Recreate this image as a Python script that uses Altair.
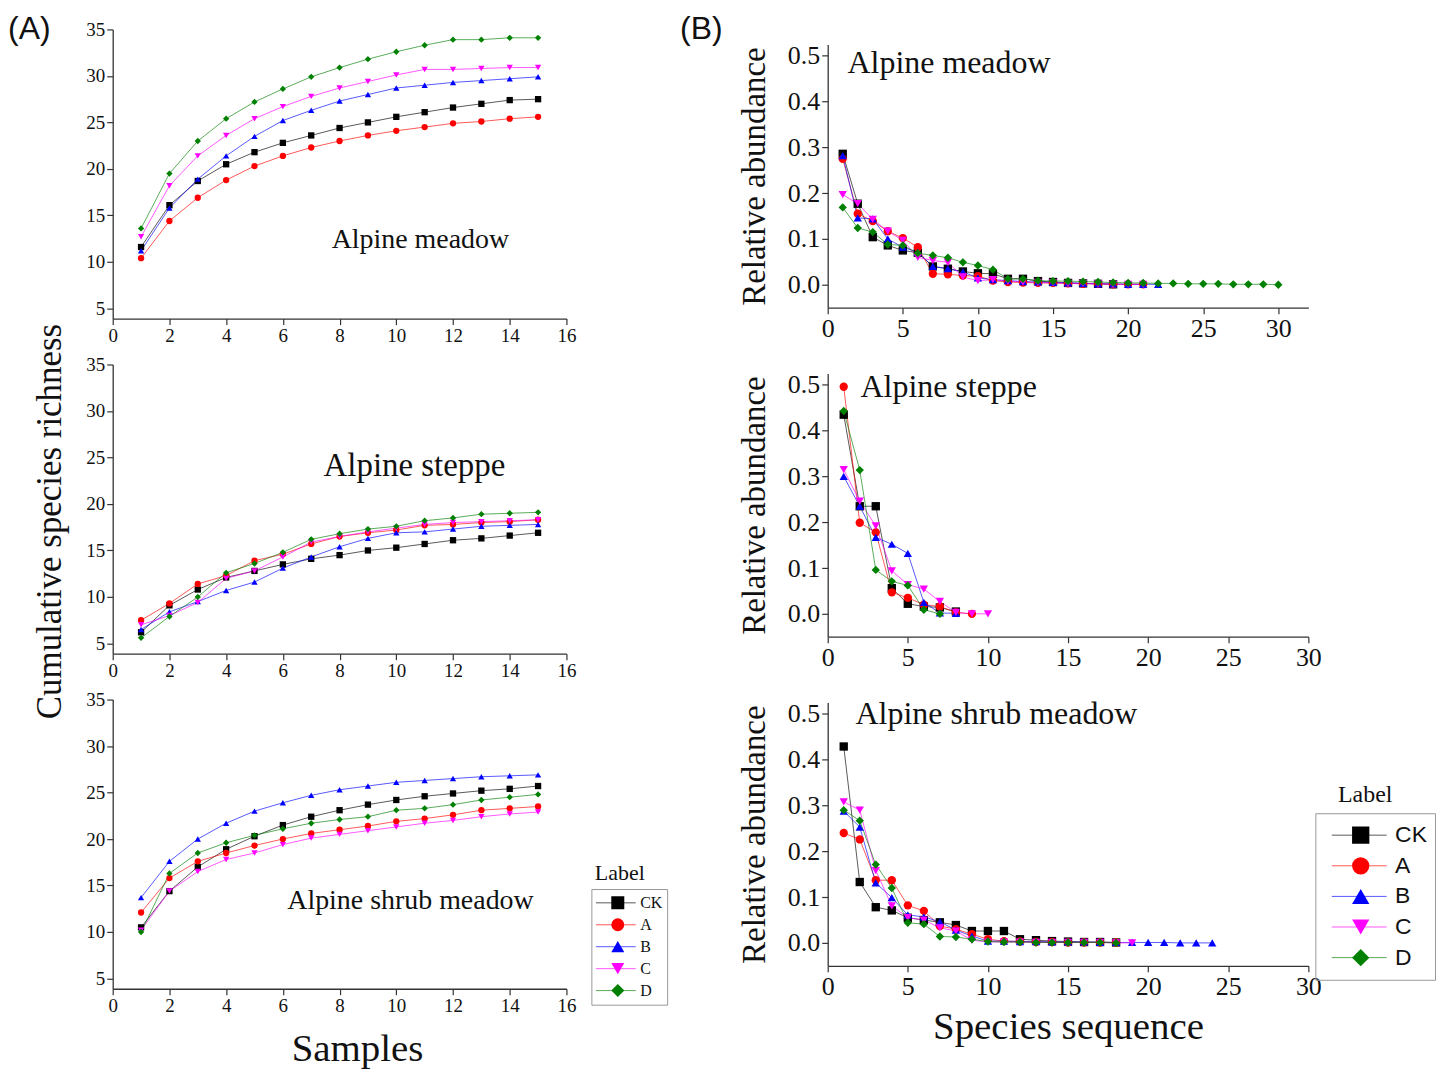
import altair as alt
import pandas as pd

SERIF = "Liberation Serif"
SANS = "Liberation Sans"

labels = ["CK", "A", "B", "C", "D"]
colors = ["#000000", "#ff0000", "#0000ff", "#ff00ff", "#008000"]
shapes = ["square", "circle", "triangle-up", "triangle-down", "diamond"]

samples = list(range(1, 16))

# (A) cumulative species richness
meadow_rich = {
    "CK": [11.6, 16.1, 18.7, 20.5, 21.8, 22.8, 23.6, 24.4, 25.0, 25.6, 26.1, 26.6, 27.0, 27.4, 27.5],
    "A": [10.4, 14.4, 16.9, 18.8, 20.3, 21.4, 22.3, 23.0, 23.6, 24.1, 24.5, 24.9, 25.1, 25.4, 25.6],
    "B": [11.2, 15.8, 18.9, 21.4, 23.5, 25.2, 26.3, 27.3, 28.0, 28.7, 29.0, 29.3, 29.5, 29.7, 29.9],
    "C": [12.7, 18.2, 21.4, 23.6, 25.4, 26.7, 27.8, 28.7, 29.4, 30.1, 30.7, 30.7, 30.8, 30.9, 30.9],
    "D": [13.6, 19.5, 23.0, 25.4, 27.2, 28.6, 29.9, 30.9, 31.8, 32.6, 33.3, 33.9, 33.9, 34.1, 34.1],
}
steppe_rich = {
    "CK": [6.2, 9.1, 10.8, 12.1, 12.8, 13.5, 14.1, 14.5, 15.0, 15.3, 15.7, 16.1, 16.3, 16.6, 16.9],
    "A": [7.5, 9.3, 11.4, 12.3, 13.9, 14.6, 15.7, 16.5, 16.9, 17.2, 17.7, 17.8, 18.0, 18.1, 18.3],
    "B": [6.5, 8.4, 9.5, 10.7, 11.6, 13.1, 14.3, 15.4, 16.3, 16.9, 17.0, 17.3, 17.6, 17.7, 17.8],
    "C": [7.0, 8.0, 9.4, 12.0, 12.8, 14.3, 15.9, 16.5, 17.0, 17.4, 17.8, 18.0, 18.1, 18.2, 18.3],
    "D": [5.6, 7.9, 10.0, 12.6, 13.6, 14.8, 16.2, 16.8, 17.3, 17.6, 18.2, 18.5, 18.9, 19.0, 19.1],
}
shrub_rich = {
    "CK": [10.5, 14.4, 17.0, 18.9, 20.3, 21.5, 22.4, 23.1, 23.7, 24.2, 24.6, 24.9, 25.2, 25.4, 25.7],
    "A": [12.1, 15.8, 17.6, 18.5, 19.3, 20.0, 20.6, 21.0, 21.4, 21.9, 22.2, 22.6, 23.1, 23.3, 23.5],
    "B": [13.7, 17.6, 20.0, 21.7, 23.0, 23.9, 24.7, 25.3, 25.7, 26.1, 26.3, 26.5, 26.7, 26.8, 26.9],
    "C": [10.2, 14.4, 16.5, 17.8, 18.5, 19.4, 20.1, 20.5, 20.9, 21.3, 21.7, 22.0, 22.4, 22.7, 22.9],
    "D": [10.0, 16.3, 18.5, 19.6, 20.4, 21.1, 21.7, 22.1, 22.4, 23.1, 23.3, 23.7, 24.2, 24.5, 24.8],
}

# (B) relative abundance by species rank
meadow_ab = {
    "CK": [0.286, 0.177, 0.104, 0.086, 0.075, 0.070, 0.040, 0.035, 0.029, 0.025, 0.024, 0.013, 0.013,
           0.008, 0.006, 0.004, 0.003, 0.002, 0.001],
    "A": [0.275, 0.155, 0.139, 0.117, 0.102, 0.082, 0.024, 0.023, 0.020, 0.019, 0.009, 0.006, 0.005,
          0.004, 0.004, 0.003, 0.002, 0.002, 0.001, 0.001, 0.001],
    "B": [0.282, 0.146, 0.144, 0.100, 0.082, 0.071, 0.040, 0.035, 0.028, 0.015, 0.011, 0.009, 0.007,
          0.006, 0.005, 0.004, 0.003, 0.002, 0.002, 0.001, 0.001, 0.001],
    "C": [0.197, 0.177, 0.143, 0.117, 0.097, 0.060, 0.053, 0.049, 0.017, 0.009, 0.011, 0.008, 0.006,
          0.005, 0.004, 0.003, 0.003, 0.002, 0.001, 0.001, 0.001],
    "D": [0.169, 0.124, 0.115, 0.088, 0.086, 0.069, 0.064, 0.059, 0.049, 0.042, 0.033, 0.013, 0.013,
          0.009, 0.008, 0.008, 0.007, 0.006, 0.005, 0.004, 0.004, 0.003, 0.003, 0.002, 0.002, 0.002,
          0.001, 0.001, 0.001, 0.0],
}
steppe_ab = {
    "CK": [0.435, 0.235, 0.235, 0.056, 0.022, 0.016, 0.014, 0.005],
    "A": [0.496, 0.199, 0.178, 0.047, 0.035, 0.020, 0.016, 0.003, 0.0],
    "B": [0.300, 0.235, 0.167, 0.152, 0.132, 0.025, 0.002, 0.001],
    "C": [0.315, 0.246, 0.192, 0.094, 0.064, 0.054, 0.027, 0.003, 0.0, 0.0],
    "D": [0.443, 0.314, 0.096, 0.071, 0.062, 0.009, 0.0],
}
shrub_ab = {
    "CK": [0.429, 0.133, 0.078, 0.071, 0.055, 0.050, 0.045, 0.039, 0.026, 0.026, 0.026, 0.008, 0.006,
           0.004, 0.003, 0.002, 0.002, 0.001],
    "A": [0.240, 0.226, 0.137, 0.137, 0.082, 0.070, 0.037, 0.030, 0.019, 0.008, 0.004, 0.003, 0.002,
          0.002, 0.001, 0.001, 0.001, 0.001],
    "B": [0.288, 0.253, 0.131, 0.099, 0.061, 0.057, 0.046, 0.028, 0.015, 0.004, 0.004, 0.003, 0.003,
          0.002, 0.002, 0.002, 0.001, 0.001, 0.001, 0.001, 0.001, 0.0, 0.0, 0.0],
    "C": [0.308, 0.290, 0.158, 0.081, 0.055, 0.050, 0.033, 0.026, 0.006, 0.002, 0.002, 0.002, 0.001,
          0.001, 0.001, 0.001, 0.001, 0.0, 0.0],
    "D": [0.290, 0.267, 0.171, 0.120, 0.044, 0.041, 0.014, 0.013, 0.008, 0.003, 0.002, 0.002, 0.001,
          0.001, 0.001, 0.001, 0.001, 0.0],
}

rich_ticks_x = [0, 2, 4, 6, 8, 10, 12, 14, 16]
rich_ticks_y = [5, 10, 15, 20, 25, 30, 35]
ab_ticks_x = [0, 5, 10, 15, 20, 25, 30]
ab_ticks_y = [0.0, 0.1, 0.2, 0.3, 0.4, 0.5]

# panel annotations: (x, y, text)
notes_A = [(10.85, 12.4, "Alpine meadow"), (10.64, 24.1, "Alpine steppe"), (10.5, 13.35, "Alpine shrub meadow")]
notes_B = [(1.32, 0.485, "Alpine meadow"), (2.05, 0.496, "Alpine steppe"), (1.74, 0.50, "Alpine shrub meadow")]


def long_df(series, xs=None):
    rows = []
    for lab in labels:
        for i, v in enumerate(series[lab]):
            x = xs[i] if xs is not None else i + 1
            rows.append({"x": x, "y": v, "Label": lab, "LabelL": lab})
    return pd.DataFrame(rows)


def panel(df, xdom, ydom, w, h, xvals, yvals, yfmt, tfs, msize, note, nfs, nalign,
          xtitle=None, ytitle=None, xextra=None, yextra=None, line_leg=None, pt_leg=None, corner=None):
    xax = dict(values=xvals, labelFontSize=tfs, format="d", labelFlush=False)
    xax["title"] = xtitle if xtitle else None
    if xextra:
        xax.update(xextra)
    yax = dict(values=yvals, labelFontSize=tfs, format=yfmt)
    yax["title"] = ytitle if ytitle else None
    if yextra:
        yax.update(yextra)
    X = alt.X("x:Q", scale=alt.Scale(domain=xdom, nice=False, zero=False), axis=alt.Axis(**xax))
    Y = alt.Y("y:Q", scale=alt.Scale(domain=ydom, nice=False, zero=False), axis=alt.Axis(**yax))
    base = alt.Chart(df)
    lines = base.mark_line(strokeWidth=1, opacity=0.65).encode(
        x=X, y=Y,
        stroke=alt.Stroke("LabelL:N", sort=labels, scale=alt.Scale(range=colors), legend=line_leg),
    )
    pts = base.mark_point(filled=True, size=msize, opacity=1).encode(
        x=X, y=Y,
        fill=alt.Fill("Label:N", scale=alt.Scale(domain=labels, range=colors), legend=pt_leg),
        shape=alt.Shape("Label:N", scale=alt.Scale(domain=labels, range=shapes), legend=pt_leg),
    )
    ndf = pd.DataFrame({"x": [note[0]], "y": [note[1]], "t": [note[2]]})
    txt = alt.Chart(ndf).mark_text(font=SERIF, fontSize=nfs, align=nalign, baseline="middle",
                                   color="#111").encode(x=X, y=Y, text="t:N")
    layers = [lines, pts, txt]
    if corner:
        cdf = pd.DataFrame({"t": [corner[0]]})
        ctext = alt.Chart(cdf).mark_text(font=SANS, fontSize=32, align="left", baseline="middle",
                                         color="#111").encode(x=alt.value(corner[1]), y=alt.value(corner[2]),
                                                              text="t:N")
        layers.append(ctext)
    return alt.layer(*layers).properties(width=w, height=h)


AW, AH = 455, 290
ADOM_X, ADOM_Y = [0, 16], [3.9, 35]
BW, BH = 482, 264

legA_line = alt.Legend(title=None, orient="none", legendX=480, legendY=190, symbolType="stroke",
                       symbolSize=1600, symbolStrokeWidth=1, labelFont=SERIF, labelFontSize=16,
                       labelColor="#111", clipHeight=19.7, rowPadding=2, padding=4, labelOffset=4,
                       strokeColor="#999")
legA_pt = alt.Legend(title="Label", orient="none", legendX=483.5, legendY=164, symbolSize=170,
                     symbolStrokeWidth=0, labelExpr="''", labelFontSize=16,
                     clipHeight=19.7, rowPadding=2, padding=0, labelOffset=4,
                     titleFont=SERIF, titleFontSize=22, titleFontWeight="normal", titleColor="#111",
                     titlePadding=8, titleAnchor="middle")
legB_line = alt.Legend(title=None, orient="none", legendX=489, legendY=111, symbolType="stroke",
                       symbolSize=3025, symbolStrokeWidth=1, labelFont=SANS, labelFontSize=23,
                       labelColor="#111", clipHeight=28, rowPadding=2.7, padding=8, symbolOffset=8,
                       labelOffset=8, strokeColor="#999")
legB_pt = alt.Legend(title="Label", orient="none", legendX=512, legendY=81, symbolSize=300,
                     symbolStrokeWidth=0, labelExpr="''", labelFontSize=23,
                     clipHeight=28, rowPadding=2.7, padding=0, labelOffset=8,
                     titleFont=SERIF, titleFontSize=24, titleFontWeight="normal", titleColor="#111",
                     titlePadding=14, titleAnchor="middle")

A1 = panel(long_df(meadow_rich, samples), ADOM_X, ADOM_Y, AW, AH, rich_ticks_x, rich_ticks_y, "d", 19, 40,
           notes_A[0], 28, "center", corner=("(A)", -105, 0))
A2 = panel(long_df(steppe_rich, samples), ADOM_X, ADOM_Y, AW, AH, rich_ticks_x, rich_ticks_y, "d", 19, 40,
           notes_A[1], 33, "center", ytitle="Cumulative species richness",
           yextra=dict(titleFontSize=35, titlePadding=18, titleY=157))
A3 = panel(long_df(shrub_rich, samples), ADOM_X, ADOM_Y, AW, AH, rich_ticks_x, rich_ticks_y, "d", 19, 40,
           notes_A[2], 28, "center", xtitle="Samples",
           xextra=dict(titleFontSize=39, titlePadding=14, titleX=245),
           line_leg=legA_line, pt_leg=legA_pt)

yB = dict(titleFontSize=33, titlePadding=16)
B1 = panel(long_df(meadow_ab), [0, 32], [-0.05, 0.525], BW, BH, ab_ticks_x, ab_ticks_y, ".1f", 26, 70,
           notes_B[0], 32, "left", ytitle="Relative abundance", yextra=yB, corner=("(B)", -148, -15))
B2 = panel(long_df(steppe_ab), [0, 30], [-0.05, 0.525], BW, BH, ab_ticks_x, ab_ticks_y, ".1f", 26, 70,
           notes_B[1], 32, "left", ytitle="Relative abundance", yextra=yB)
B3 = panel(long_df(shrub_ab), [0, 30], [-0.05, 0.525], BW, BH, ab_ticks_x, ab_ticks_y, ".1f", 26, 70,
           notes_B[2], 32, "left", ytitle="Relative abundance", yextra=yB, xtitle="Species sequence",
           xextra=dict(titleFontSize=39, titlePadding=8), line_leg=legB_line, pt_leg=legB_pt)

# invisible 1px strip that pushes column (B) down relative to column (A)
spacer = alt.Chart(pd.DataFrame({"v": [0]})).mark_point(opacity=0).encode(
    x=alt.value(0), y=alt.value(0)).properties(width=BW, height=1)

ind = dict(fill="independent", shape="independent", stroke="independent")
colA = alt.vconcat(A1, A2, A3, spacing=46, bounds="flush").resolve_scale(**ind).resolve_legend(**ind)
colB_in = alt.vconcat(B1, B2, B3, spacing=66, bounds="flush").resolve_scale(**ind).resolve_legend(**ind)
colB = alt.vconcat(spacer, colB_in, spacing=14, bounds="flush").resolve_scale(**ind).resolve_legend(**ind)

chart = alt.hconcat(colA, colB, spacing=12).resolve_scale(**ind).resolve_legend(**ind).properties(
    padding={"left": 0, "top": 4, "right": 0, "bottom": 0},
    background="white",
).configure_view(strokeWidth=0).configure_axis(
    grid=False, domainColor="#333", domainWidth=1.3, tickColor="#333", tickWidth=1.2, tickSize=6,
    labelColor="#111", titleColor="#111", labelFont=SERIF, titleFont=SERIF, titleFontWeight="normal",
    labelPadding=2,
)

chart.save("out.html", embed_options={"renderer": "svg", "actions": False})
